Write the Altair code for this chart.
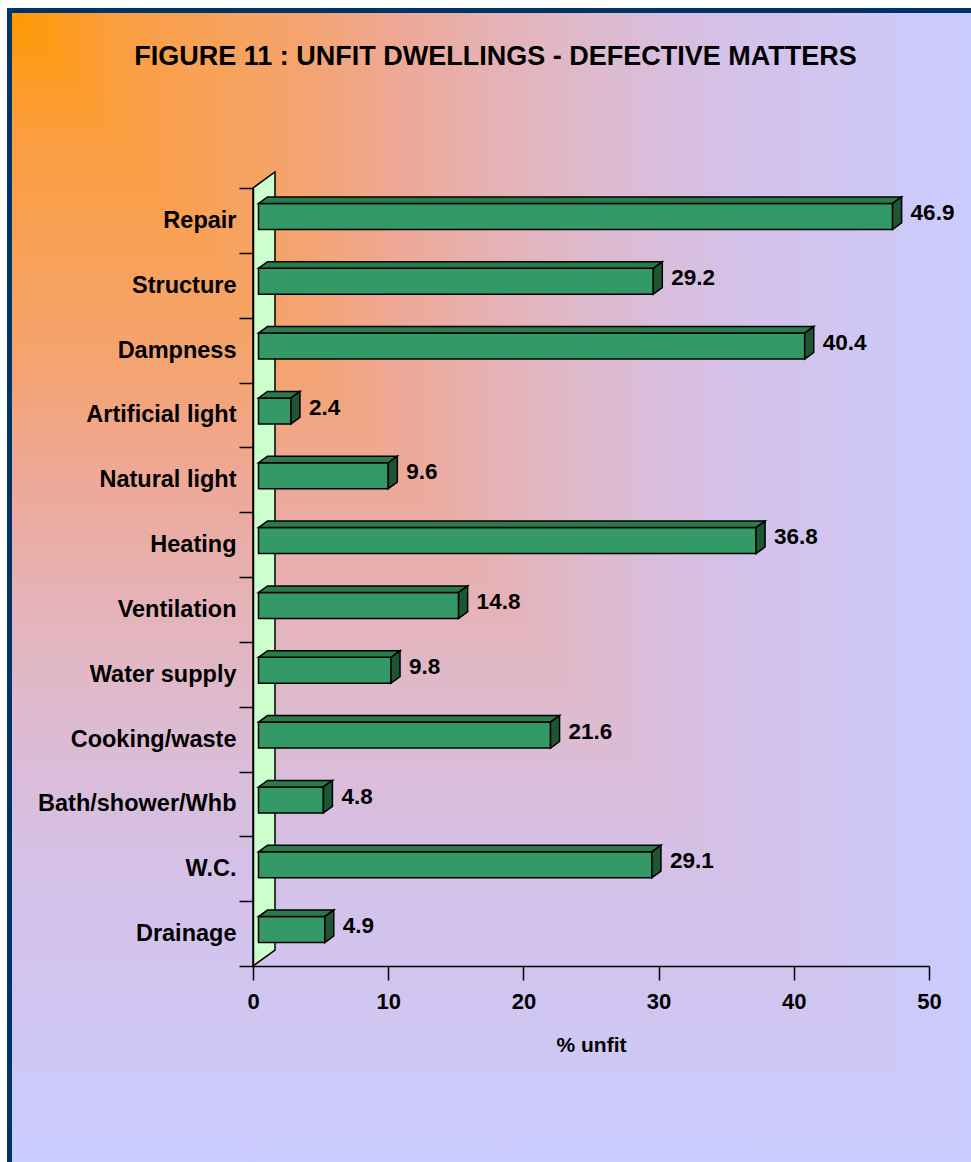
import json

import altair as alt
import pandas as pd

# ---------------------------------------------------------------- data
categories = [
    "Repair", "Structure", "Dampness", "Artificial light", "Natural light",
    "Heating", "Ventilation", "Water supply", "Cooking/waste",
    "Bath/shower/Whb", "W.C.", "Drainage",
]
values = [46.9, 29.2, 40.4, 2.4, 9.6, 36.8, 14.8, 9.8, 21.6, 4.8, 29.1, 4.9]
x_ticks = [0, 10, 20, 30, 40, 50]
title_text = "FIGURE 11 : UNFIT DWELLINGS - DEFECTIVE MATTERS"
x_title = "% unfit"

# ---------------------------------------------------------------- layout
FONT = "Liberation Sans"
W, H = 676, 778            # plot area
PAD = {"left": 253, "top": 188, "right": 42, "bottom": 196}
X_MAX = 50
N = len(categories)

px_x = W / X_MAX           # pixels per unit on each axis
px_y = H / N

# 3-D look: depth of the side wall, and where the bars sit inside it
DEPTH_X = 22 / px_x
DEPTH_Y = 16 / px_y
FRONT = 0.25               # depth fraction of the bars' front face
THICK = 0.41               # depth fraction taken by a bar
BAR_H = 0.40               # bar height as a share of its slot

slot = list(range(N - 1, -1, -1))   # first category on top

front_rows, top_rows, side_rows, label_rows = [], [], [], []
for cat, v, k in zip(categories, values, slot):
    x0 = FRONT * DEPTH_X
    x1 = x0 + v
    y0 = k + 0.5 - BAR_H / 2 + FRONT * DEPTH_Y
    y1 = y0 + BAR_H
    dx, dy = THICK * DEPTH_X, THICK * DEPTH_Y
    front_rows.append(dict(cat=cat, x=x0, x2=x1, y=y0, y2=y1))
    top_rows += [
        dict(cat=cat, x=x0, lo=y1, hi=y1),
        dict(cat=cat, x=x0 + dx, lo=y1, hi=y1 + dy),
        dict(cat=cat, x=x1, lo=y1, hi=y1 + dy),
        dict(cat=cat, x=x1 + dx, lo=y1 + dy, hi=y1 + dy),
    ]
    side_rows += [
        dict(cat=cat, x=x1, lo=y0, hi=y1),
        dict(cat=cat, x=x1 + dx, lo=y0 + dy, hi=y1 + dy),
    ]
    label_rows.append(dict(cat=cat, x=x1 + dx, y=(y0 + y1 + dy) / 2,
                           text=f"{v:.1f}"))

wall_rows = [
    dict(x=0.0, lo=0.0, hi=float(N)),
    dict(x=DEPTH_X, lo=DEPTH_Y, hi=N + DEPTH_Y),
]

front_df = pd.DataFrame(front_rows)
top_df = pd.DataFrame(top_rows)
side_df = pd.DataFrame(side_rows)
label_df = pd.DataFrame(label_rows)
wall_df = pd.DataFrame(wall_rows)
one_row = pd.DataFrame({"k": [0]})

# ---------------------------------------------------------------- scales / axes
xs = alt.Scale(domain=[0, X_MAX], nice=False, zero=False)
ys = alt.Scale(domain=[0, N], nice=False, zero=False)

x_axis = alt.Axis(
    values=x_ticks, format="d", grid=False, zindex=1,
    domainColor="black", domainWidth=1.5,
    tickColor="black", tickWidth=1.5, tickSize=14,
    labelFont=FONT, labelFontSize=22, labelFontWeight="bold",
    labelColor="black", labelPadding=11, labelFlush=False,
    title=x_title, titleFont=FONT, titleFontSize=21,
    titleFontWeight="bold", titleColor="black", titlePadding=22,
)

names_by_slot = categories[::-1]
y_label_expr = f"datum.value < {N} ? {json.dumps(names_by_slot)}[datum.value] : ''"
y_axis = alt.Axis(
    values=list(range(N + 1)), grid=False, zindex=1, title=None,
    domainColor="black", domainWidth=1.5,
    tickColor="black", tickWidth=1.5, tickSize=14,
    labelExpr=y_label_expr, labelOffset=-px_y / 2, labelBaseline="middle",
    labelFont=FONT, labelFontSize=23.5, labelFontWeight="bold",
    labelColor="black", labelPadding=3, labelLimit=0,
)


def X(field):
    return alt.X(field, scale=xs, axis=x_axis)


def Y(field):
    return alt.Y(field, scale=ys, axis=y_axis, stack=None)


# ---------------------------------------------------------------- background panel
# "from corner" wash: colour depends on the larger of the horizontal and
# vertical distance from the top-left corner.  A vertical gradient fills the
# panel and a horizontal one covers the triangle above its diagonal.
PANEL_L, PANEL_T, PANEL_R, PANEL_B = 9.5, 10.5, 980.0, 1172.0
wash = [
    {"offset": 0.0, "color": "#FF9900"},
    {"offset": 0.11, "color": "#FB9E40"},
    {"offset": 0.31, "color": "#F4A472"},
    {"offset": 0.40, "color": "#EEA896"},
    {"offset": 0.525, "color": "#E4B4BC"},
    {"offset": 0.61, "color": "#DDBBD0"},
    {"offset": 0.69, "color": "#D8BEDF"},
    {"offset": 0.76, "color": "#D4C2EA"},
    {"offset": 0.87, "color": "#D0C6F2"},
    {"offset": 0.94, "color": "#CCCAFA"},
    {"offset": 1.0, "color": "#CCCCFF"},
]
wash_down = {"gradient": "linear", "x1": 0, "y1": 0, "x2": 0, "y2": 1, "stops": wash}
wash_across = {"gradient": "linear", "x1": 0, "y1": 0, "x2": 1, "y2": 0, "stops": wash}


def data_x(px):
    return (px - PAD["left"]) / px_x


def data_y(py):
    return (PAD["top"] + H - py) / px_y


panel_box = dict(
    x=alt.value(PANEL_L - PAD["left"]), x2=alt.value(PANEL_R - PAD["left"]),
    y=alt.value(PANEL_T - PAD["top"]), y2=alt.value(PANEL_B - PAD["top"]),
)
panel = alt.Chart(one_row).mark_rect(fill=wash_down, strokeWidth=0).encode(**panel_box)

upper_tri = pd.DataFrame([
    dict(x=data_x(PANEL_L), lo=data_y(PANEL_T), hi=data_y(PANEL_T)),
    dict(x=data_x(PANEL_R), lo=data_y(PANEL_B), hi=data_y(PANEL_T)),
])
panel_upper = alt.Chart(upper_tri).mark_area(
    fill=wash_across, strokeWidth=0
).encode(x=X("x:Q"), y=Y("lo:Q"), y2="hi:Q")

border = alt.Chart(one_row).mark_rect(
    fill="transparent", stroke="#003366", strokeWidth=5
).encode(**panel_box)

title = alt.Chart(one_row).mark_text(
    font=FONT, fontSize=27, fontWeight="bold", color="black",
    align="center", baseline="alphabetic",
).encode(
    x=alt.value(495.5 - PAD["left"]), y=alt.value(65 - PAD["top"]),
    text=alt.value(title_text),
)

# ---------------------------------------------------------------- 3-D wall and bars
wall = alt.Chart(wall_df).mark_area(
    fill="#CCFFCC", stroke="black", strokeWidth=1.5
).encode(x=X("x:Q"), y=Y("lo:Q"), y2="hi:Q")

front = alt.Chart(front_df).mark_rect(
    fill="#339966", stroke="black", strokeWidth=1.5
).encode(x=X("x:Q"), x2="x2:Q", y=Y("y:Q"), y2="y2:Q")

top_face = alt.Chart(top_df).mark_area(
    fill="#2B7A4B", stroke="black", strokeWidth=1.5
).encode(x=X("x:Q"), y=Y("lo:Q"), y2="hi:Q", detail="cat:N")

side_face = alt.Chart(side_df).mark_area(
    fill="#1E5535", stroke="black", strokeWidth=1.5
).encode(x=X("x:Q"), y=Y("lo:Q"), y2="hi:Q", detail="cat:N")

value_labels = alt.Chart(label_df).mark_text(
    font=FONT, fontSize=22.5, fontWeight="bold", color="black",
    align="left", baseline="middle", dx=9,
).encode(x=X("x:Q"), y=Y("y:Q"), text="text:N")

chart = alt.layer(
    panel, panel_upper, border, title,
    wall, front, top_face, side_face, value_labels,
).properties(
    width=W, height=H, padding=PAD, autosize="none", background="white",
).configure_view(stroke=None)

chart.save("out.html", embed_options={"renderer": "svg", "actions": False})
